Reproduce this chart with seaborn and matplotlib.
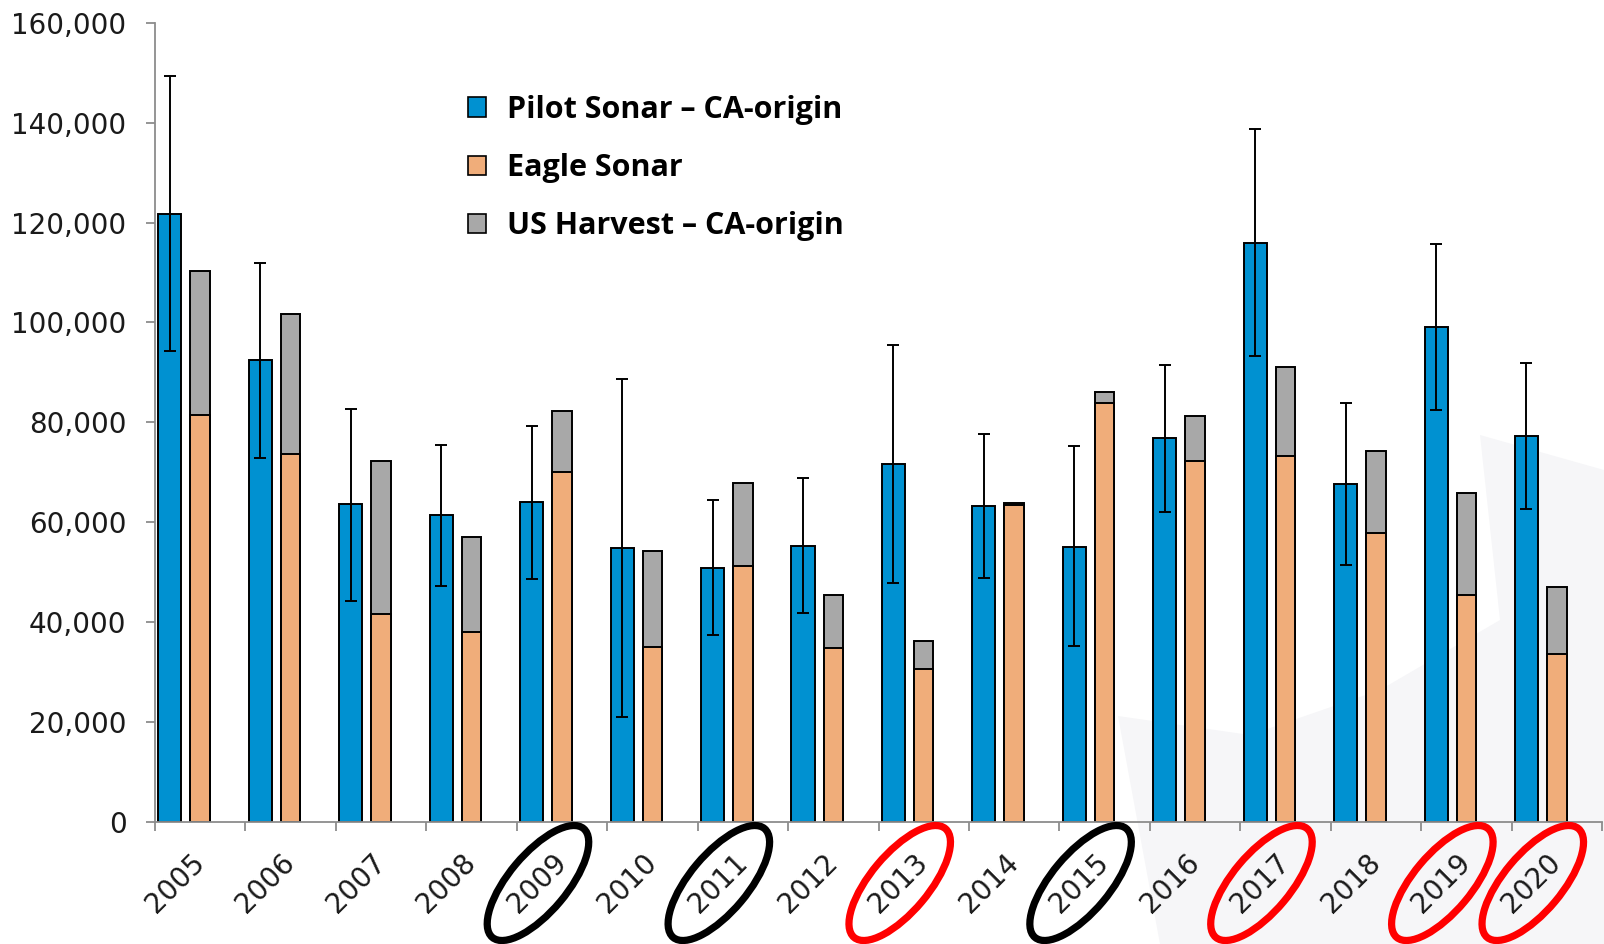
import numpy as np
import pandas as pd
import matplotlib
matplotlib.use("Agg")
import matplotlib.pyplot as plt
from matplotlib.patches import Ellipse, Patch, Polygon
from matplotlib.transforms import IdentityTransform
from matplotlib.ticker import FuncFormatter, FixedLocator
import seaborn as sns

# ---- data -------------------------------------------------------------
years = [str(y) for y in range(2005, 2021)]
pilot = [121800, 92400, 63600, 61400, 64000, 54900, 50800, 55300,
         71700, 63300, 55100, 76800, 115900, 67600, 99100, 77200]
pilot_hi = [149400, 111900, 82700, 75500, 79200, 88700, 64400, 68800,
            95400, 77600, 75200, 91500, 138800, 83800, 115700, 91900]
pilot_lo = [94200, 72800, 44300, 47300, 48600, 21100, 37400, 41800,
            47900, 48900, 35200, 62000, 93200, 51500, 82500, 62600]
eagle = [81400, 73600, 41600, 38100, 70000, 35000, 51300, 34800,
         30700, 63400, 83900, 72300, 73300, 57800, 45500, 33600]
harvest = [28900, 28100, 30600, 19000, 12300, 19200, 16600, 10600,
           5500, 400, 2200, 8900, 17700, 16500, 20400, 13400]
circled_black = ["2009", "2011", "2015"]
circled_red = ["2013", "2017", "2019", "2020"]
legend_labels = ["Pilot Sonar \u2013 CA-origin", "Eagle Sonar",
                 "US Harvest \u2013 CA-origin"]
y_ticks = [0, 20000, 40000, 60000, 80000, 100000, 120000, 140000, 160000]

BLUE, ORANGE, GRAY = "#0091d1", "#f0ad7a", "#a8a8a8"
AXIS_GRAY = "#8c8c8c"
TEXT = "#1a1a1a"

# ---- figure -----------------------------------------------------------
sns.set_theme(style="white")
plt.rcParams["font.family"] = ["DejaVu Sans"]

W, H, DPI = 1604, 944, 100
fig = plt.figure(figsize=(W / DPI, H / DPI), dpi=DPI)
fig.patch.set_facecolor("white")

# faint background swoosh in the lower right
swoosh_px = [(1118, 716), (1250, 735), (1380, 690), (1500, 620), (1480, 435),
             (1604, 470), (1604, 944), (1160, 944)]
fig.add_artist(Polygon([(x / W, 1 - y / H) for x, y in swoosh_px],
                       closed=True, transform=fig.transFigure,
                       facecolor="#f6f6f8", edgecolor="none", zorder=-10))

ax = fig.add_axes([155 / W, 1 - 822 / H, (1602 - 155) / W, (822 - 22.7) / H])
ax.set_facecolor("none")

idx = np.arange(len(years))
df = pd.DataFrame({"year": years, "pos": idx, "pilot": pilot,
                   "eagle": eagle,
                   "total": np.add(eagle, harvest)})
df["pilot_x"] = df["pos"] + 0.165
df["eagle_x"] = df["pos"] + 0.50

bar_kw = dict(edgecolor="black", linewidth=1.4, saturation=1,
              errorbar=None, native_scale=True, ax=ax)
sns.barplot(data=df, x="pilot_x", y="pilot", width=0.255, color=BLUE, **bar_kw)
# harvest stacked on eagle: draw the total in gray, then eagle over it
sns.barplot(data=df, x="eagle_x", y="total", width=0.215, color=GRAY, **bar_kw)
sns.barplot(data=df, x="eagle_x", y="eagle", width=0.215, color=ORANGE, **bar_kw)

ax.errorbar(df["pilot_x"], df["pilot"],
            yerr=[np.subtract(pilot, pilot_lo), np.subtract(pilot_hi, pilot)],
            fmt="none", ecolor="black", elinewidth=1.4, capsize=4,
            capthick=1.4, zorder=5)

# ---- axes styling ------------------------------------------------------
ax.set_xlim(0, len(years))
ax.set_ylim(0, 160000)
ax.set_xlabel("")
ax.set_ylabel("")
for side in ("top", "right"):
    ax.spines[side].set_visible(False)
for side in ("left", "bottom"):
    ax.spines[side].set_color(AXIS_GRAY)
    ax.spines[side].set_linewidth(1.3)

ax.yaxis.set_major_locator(FixedLocator(y_ticks))
ax.yaxis.set_major_formatter(FuncFormatter(lambda v, p: f"{int(v):,}"))
ax.tick_params(axis="y", which="major", direction="out", length=6.5,
               width=1.3, color=AXIS_GRAY, labelsize=20, pad=14,
               labelcolor=TEXT, left=True)

ax.xaxis.set_major_locator(FixedLocator(np.arange(len(years) + 1)))
ax.xaxis.set_major_formatter(FuncFormatter(lambda v, p: ""))
ax.xaxis.set_minor_locator(FixedLocator(idx + 0.5))
ax.set_xticklabels(years, minor=True)
ax.tick_params(axis="x", which="major", direction="out", length=6.5,
               width=1.3, color=AXIS_GRAY, bottom=True)
ax.tick_params(axis="x", which="minor", length=0, labelsize=20, pad=26,
               labelcolor=TEXT, bottom=True)
for lab in ax.get_xticklabels(minor=True):
    lab.set_rotation(45)
    lab.set_rotation_mode("anchor")
    lab.set_ha("right")
    lab.set_va("center")

# ---- rings around selected year labels ----------------------------------
for color, group in (("black", circled_black), ("#ff0000", circled_red)):
    for yr in group:
        i = years.index(yr)
        cx, cy = ax.transData.transform((i + 0.5, 0))
        fig.add_artist(Ellipse((cx - 24, cy - 61), width=142, height=58,
                               angle=50, transform=IdentityTransform(),
                               fill=False, edgecolor=color, linewidth=5.2,
                               clip_on=False, zorder=10))

# ---- legend -------------------------------------------------------------
handles = [Patch(facecolor=c, edgecolor="black", linewidth=1.2)
           for c in (BLUE, ORANGE, GRAY)]
leg = fig.legend(handles, legend_labels, loc="center left",
                 bbox_to_anchor=(468 / W, 1 - 168 / H), frameon=False,
                 prop={"family": "Open Sans", "weight": "bold", "size": 22},
                 handlelength=0.6, handleheight=0.6, handletextpad=0.68,
                 labelspacing=0.92, borderpad=0, borderaxespad=0)
for t in leg.get_texts():
    t.set_color("black")

fig.savefig("out.png", dpi=DPI)
